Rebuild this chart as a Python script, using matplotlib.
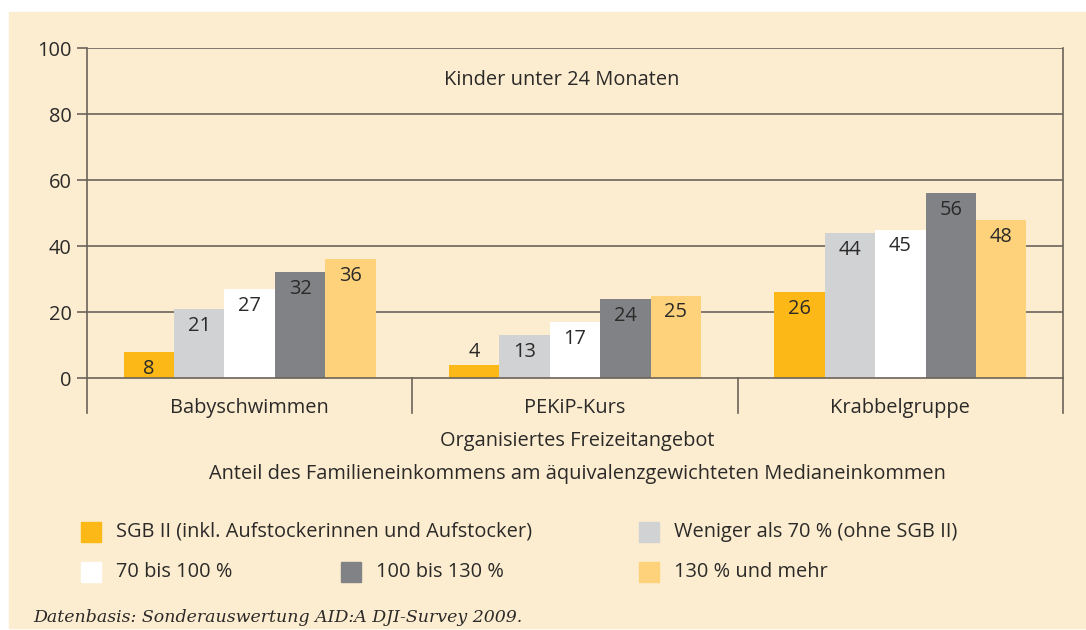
import numpy as np
import matplotlib.pyplot as plt
from matplotlib.patches import Rectangle

plt.rcParams['font.family'] = ['Open Sans', 'DejaVu Sans']

categories = ['Babyschwimmen', 'PEKiP-Kurs', 'Krabbelgruppe']
series = ['SGB II (inkl. Aufstockerinnen und Aufstocker)',
          'Weniger als 70 % (ohne SGB II)',
          '70 bis 100 %',
          '100 bis 130 %',
          '130 % und mehr']
values = [
    [8, 4, 26],
    [21, 13, 44],
    [27, 17, 45],
    [32, 24, 56],
    [36, 25, 48],
]
colors = ['#fbb817', '#d1d2d4', '#ffffff', '#808285', '#fdd27a']

bg = '#fdedd0'
line_col = '#6b6259'
text_col = '#2b2a29'
fs = 14.4

W, H = 1086, 630
fig = plt.figure(figsize=(W / 100, H / 100), dpi=100)
fig.patches.append(Rectangle((9 / W, 2 / H), 1 - 9 / W, 1 - 14 / H,
                             transform=fig.transFigure, color=bg, zorder=-1))

ax = fig.add_axes([87 / W, 1 - 378 / H, (1063 - 87) / W, 330 / H])
ax.set_facecolor('none')

x = np.arange(len(categories))
width = 0.155
for i, (vals, c) in enumerate(zip(values, colors)):
    pos = x + (i - 2) * width
    ax.bar(pos, vals, width, color=c, zorder=3)
    for p, v in zip(pos, vals):
        # short bars get their label above the bar
        if v < 6:
            ax.annotate(str(v), (p, v), xytext=(0, 2), textcoords='offset points',
                        ha='center', va='bottom', fontsize=fs, color=text_col, zorder=4)
        else:
            ax.annotate(str(v), (p, v), xytext=(0, -5), textcoords='offset points',
                        ha='center', va='top', fontsize=fs, color=text_col, zorder=4)

ax.set_xlim(-0.5, 2.5)
ax.set_ylim(0, 100)
ax.set_yticks(range(0, 101, 20))
ax.tick_params(axis='y', length=7, width=1.2, color=line_col, labelsize=fs,
               labelcolor=text_col, pad=4)
ax.set_xticks([])
for y in range(20, 101, 20):
    ax.axhline(y, color=line_col, lw=1.2, zorder=1)
ax.spines['top'].set_visible(False)
for s in ['left', 'right', 'bottom']:
    ax.spines[s].set_color(line_col)
    ax.spines[s].set_linewidth(1.2)
    ax.spines[s].set_zorder(5)

# group separators below the axis
for sx in [-0.5, 0.5, 1.5, 2.5]:
    ax.plot([sx, sx], [0, -0.106], transform=ax.get_xaxis_transform(),
            color=line_col, lw=1.2, clip_on=False)
for xi, cat in zip(x, categories):
    ax.text(xi, -0.09, cat, transform=ax.get_xaxis_transform(), ha='center',
            va='center', fontsize=fs, color=text_col)

fig.text(562 / W, 1 - 80 / H, 'Kinder unter 24 Monaten',
         ha='center', va='center', fontsize=fs, color=text_col)

fig.text(577 / W, 1 - 441 / H, 'Organisiertes Freizeitangebot', ha='center',
         va='center', fontsize=fs, color=text_col)
fig.text(577 / W, 1 - 474 / H,
         'Anteil des Familieneinkommens am äquivalenzgewichteten Medianeinkommen',
         ha='center', va='center', fontsize=fs, color=text_col)

# legend laid out by hand
leg_pos = [(81, 532), (639, 532), (81, 572), (341, 572), (639, 572)]
for (lx, ly), lab, c in zip(leg_pos, series, colors):
    fig.patches.append(Rectangle((lx / W, 1 - (ly + 10) / H), 20 / W, 20 / H,
                                 transform=fig.transFigure, color=c, zorder=2))
    fig.text((lx + 35) / W, 1 - ly / H, lab, ha='left', va='center',
             fontsize=fs, color=text_col)

fig.text(33 / W, 1 - 617 / H,
         'Datenbasis: Sonderauswertung AID:A DJI-Survey 2009.',
         ha='left', va='center', fontsize=12.5, style='italic',
         family=['DejaVu Serif'], color=text_col)

fig.savefig('out.png', dpi=100, facecolor='white')
